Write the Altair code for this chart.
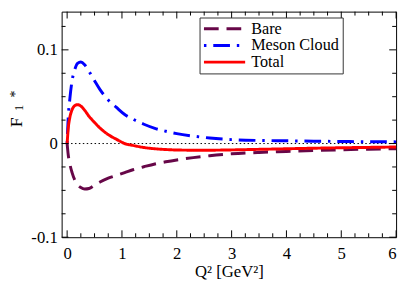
import altair as alt
import pandas as pd

# ---- data ----
q2 = [0, 0.02, 0.05, 0.09, 0.14, 0.19, 0.25, 0.32, 0.4, 0.5, 0.6, 0.75, 0.9,
      1.05, 1.2, 1.4, 1.6, 1.8, 2.0, 2.3, 2.6, 3.0, 3.5, 4.0, 4.5, 5.0, 5.5, 6.0]
bare = [0, -0.012, -0.022, -0.031, -0.039, -0.044, -0.047, -0.0485, -0.048,
        -0.0445, -0.041, -0.037, -0.034, -0.031, -0.028, -0.0248, -0.0218,
        -0.0195, -0.0175, -0.015, -0.013, -0.011, -0.0095, -0.0085, -0.0075,
        -0.0067, -0.006, -0.0055]
meson = [0, 0.028, 0.048, 0.067, 0.079, 0.0855, 0.087, 0.084, 0.077, 0.067,
         0.0575, 0.0465, 0.0385, 0.031, 0.026, 0.0206, 0.0162, 0.0131, 0.0106,
         0.0079, 0.0059, 0.0042, 0.0033, 0.0029, 0.0025, 0.0022, 0.0019, 0.0018]
total = [0, 0.016, 0.028, 0.036, 0.0405, 0.0415, 0.040, 0.0355, 0.029, 0.0225,
         0.0165, 0.0095, 0.0045, 0.0, -0.002, -0.0042, -0.0056, -0.0064,
         -0.0069, -0.0071, -0.0071, -0.0068, -0.0062, -0.0056, -0.005, -0.0045,
         -0.0041, -0.0037]
series_names = ["Bare", "Meson Cloud", "Total"]
series_colors = ["#670748", "#0000ff", "#ff0000"]
series_dashes = [[15, 8], [2.5, 7, 17, 7], [1, 0]]

x_major = [0, 1, 2, 3, 4, 5, 6]
x_minor = [m + f for m in range(6) for f in (0.25, 0.5, 0.75)]
y_major = [-0.1, 0, 0.1]
y_minor = [-0.075, -0.05, -0.025, 0.025, 0.05, 0.075, 0.125]
zero_q = [0, 6]
zero_v = [0, 0]

rows = []
for name, vals in zip(series_names, [bare, meson, total]):
    for q, v in zip(q2, vals):
        rows.append({"q": q, "v": v, "series": name})
df = pd.DataFrame(rows)

W, H = 341, 230
FONT = "Liberation Serif"

xscale = alt.Scale(domain=[-0.1, 6], nice=False, zero=False)
yscale = alt.Scale(domain=[-0.1, 0.1408], nice=False, zero=False)

xaxis = alt.Axis(values=x_major, format="d", ticks=False, domain=False, grid=False,
                 labelFontSize=17, labelFont=FONT, labelPadding=9, labelColor="black",
                 title="Q² [GeV²]", titleFont=FONT, titleFontSize=17,
                 titleFontWeight="normal", titleColor="black",
                 titleBaseline="alphabetic", titleY=40)
yaxis = alt.Axis(values=y_major, ticks=False, domain=False, grid=False,
                 labelExpr="datum.value == 0 ? '0' : (datum.value < 0 ? '-' + format(-datum.value, '.1f') : format(datum.value, '.1f'))",
                 labelFontSize=17, labelFont=FONT, labelPadding=4.5, labelColor="black",
                 title=None)


def X(field="q"):
    return alt.X(f"{field}:Q", scale=xscale, axis=xaxis)


def Y(field="v"):
    return alt.Y(f"{field}:Q", scale=yscale, axis=yaxis)


# wide horizontal stroke symbol: path is scaled by sqrt(size)/2 = 7 -> 42 px long
leg = alt.Legend(title=None, orient="none", legendX=140.6, legendY=6,
                 symbolType="M-3,0H3", symbolSize=196, symbolStrokeWidth=3,
                 symbolOffset=14,
                 labelFont=FONT, labelFontSize=16.5, labelColor="black",
                 labelOffset=18.7, padding=3, rowPadding=-0.5,
                 strokeColor="#333333", fillColor="white")

zero = alt.Chart(pd.DataFrame({"q": zero_q, "v": zero_v})).mark_line(
    color="black", strokeWidth=1, strokeDash=[1.5, 2.5]
).encode(x=X(), y=Y())

lines = alt.Chart(df).mark_line(strokeWidth=3, interpolate="monotone").encode(
    x=X(), y=Y(),
    color=alt.Color("series:N", scale=alt.Scale(domain=series_names, range=series_colors), legend=leg),
    strokeDash=alt.StrokeDash("series:N", scale=alt.Scale(domain=series_names, range=series_dashes), legend=leg),
)


def xticks(vals, length, top):
    y0, y1 = (0, length) if top else (H, H - length)
    return alt.Chart(pd.DataFrame({"q": vals})).mark_rule(color="black", strokeWidth=1).encode(
        x=X(), y=alt.value(y0), y2=alt.value(y1))


def yticks(vals, length, right):
    x0, x1 = (W, W - length) if right else (0, length)
    return alt.Chart(pd.DataFrame({"v": vals})).mark_rule(color="black", strokeWidth=1).encode(
        y=Y(), x=alt.value(x0), x2=alt.value(x1))


ticks = [xticks(x_major, 7, False), xticks(x_major, 7, True),
         xticks(x_minor, 4, False), xticks(x_minor, 4, True),
         yticks(y_major, 7, False), yticks(y_major, 7, True),
         yticks(y_minor, 4, False), yticks(y_minor, 4, True)]


def label(txt, x, y, size):
    return alt.Chart(pd.DataFrame({"t": [txt]})).mark_text(
        font=FONT, fontSize=size, angle=270, align="center", baseline="middle", color="black"
    ).encode(x=alt.value(x), y=alt.value(y), text="t:N")


ytitle = [label("F", -45.5, 113, 18), label("1", -43, 98, 12), label("*", -46.5, 84, 14)]

chart = alt.layer(zero, lines, *ticks, *ytitle).properties(
    width=W, height=H,
    autosize=alt.AutoSizeParams(type="none"),
    padding={"left": 54.7, "top": 1, "right": 5, "bottom": 45},
).configure_view(stroke="black", strokeWidth=1)

chart.save("out.html", embed_options={"renderer": "svg", "actions": False})
